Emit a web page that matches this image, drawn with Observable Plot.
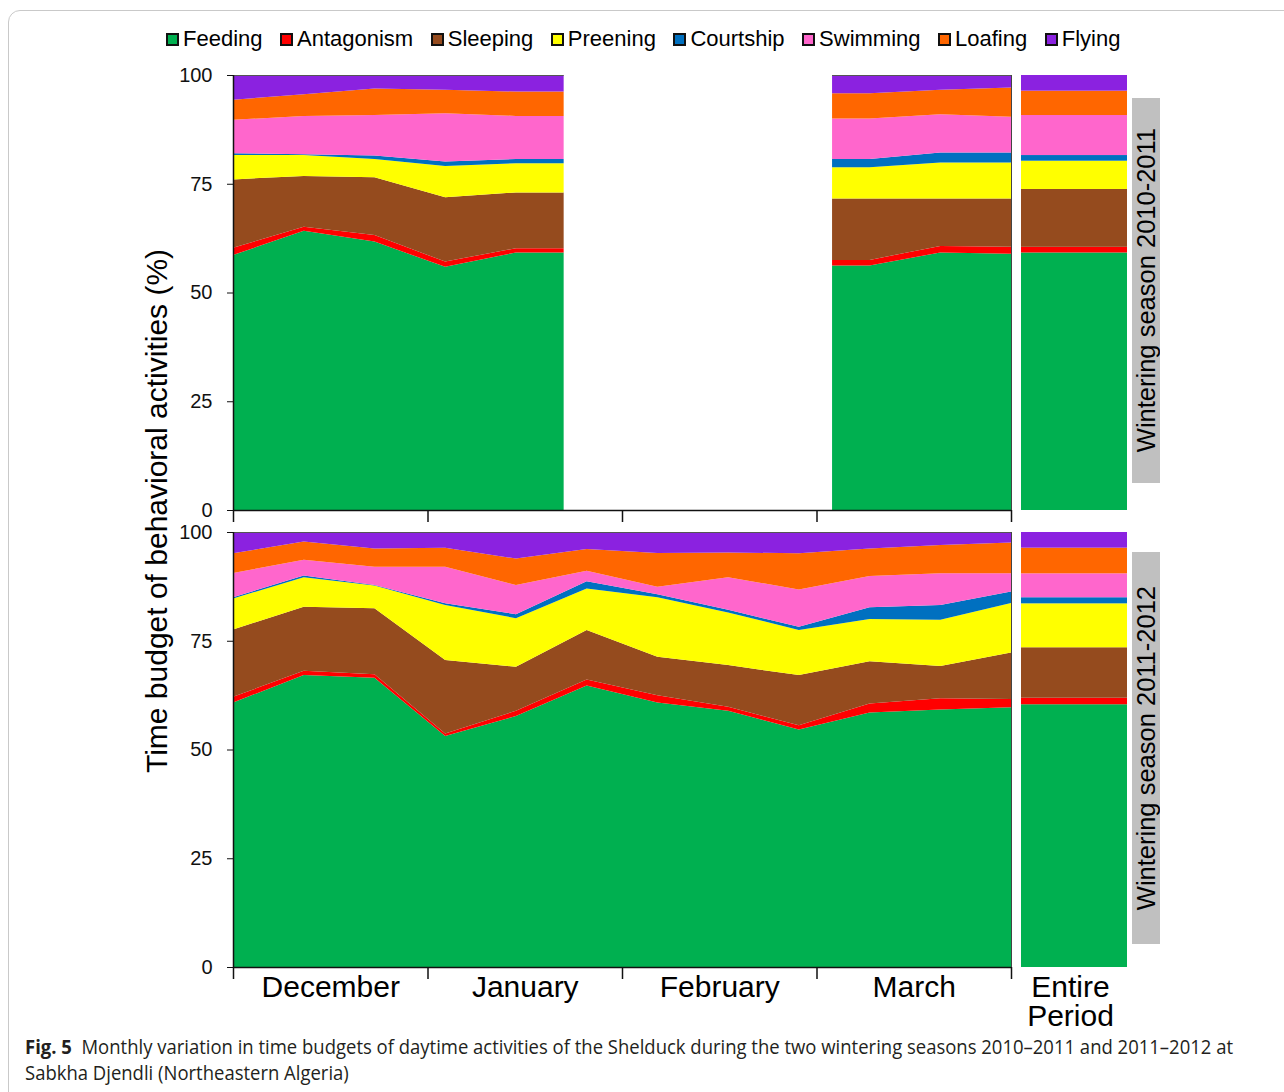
<!DOCTYPE html>
<html>
<head>
<meta charset="utf-8">
<script src="https://cdn.jsdelivr.net/npm/d3@7"></script>
<script src="https://cdn.jsdelivr.net/npm/@observablehq/plot@0.6"></script>
<style>
  html, body { margin: 0; padding: 0; background: #fff; overflow: hidden; }
  #fig { position: relative; width: 1284px; height: 1092px; font-family: "Liberation Sans", Arial, sans-serif; color: #000; }
  #box { position: absolute; left: 8px; top: 10px; width: 1320px; height: 1110px; border: 1px solid #c9c9c9; border-radius: 12px; box-sizing: border-box; }
  #legend { position: absolute; left: 166px; top: 25px; display: flex; align-items: center; font-size: 22px; line-height: 28px; white-space: nowrap; }
  .item { display: flex; align-items: center; margin-right: 17.5px; }
  .sw { width: 9px; height: 9px; border: 2px solid #111; margin-right: 4px; }
  #ylabel { position: absolute; left: 157px; top: 511px; transform: translate(-50%, -50%) rotate(-90deg); font-size: 30px; white-space: nowrap; }
  .strip { position: absolute; left: 1132px; width: 28px; background: #c0c0c0; display: flex; align-items: center; justify-content: center; }
  .strip span { writing-mode: vertical-rl; transform: rotate(180deg); font-size: 25.5px; white-space: nowrap; }
  #caption { position: absolute; left: 25px; top: 1034px; font-family: "Open Sans", sans-serif; font-size: 20px; line-height: 26px; color: #231f20; transform-origin: left top; white-space: nowrap; }
  #caption b { font-weight: 700; }
</style>
</head>
<body>
<div id="fig">
  <div id="box"></div>
  <div id="legend"></div>
  <div id="ylabel">Time budget of behavioral activities (%)</div>
  <div class="strip" style="top:98px;height:385px"><span>Wintering season 2010-2011</span></div>
  <div class="strip" style="top:552px;height:392px"><span>Wintering season 2011-2012</span></div>
  <div id="caption">
    <div class="l1"><span><b>Fig. 5</b>&nbsp; Monthly variation in time budgets of daytime activities of the Shelduck during the two wintering seasons 2010–2011 and 2011–2012 at</span></div>
    <div class="l2"><span>Sabkha Djendli (Northeastern Algeria)</span></div>
  </div>
</div>
<script>
// Activity categories (stacking order, bottom to top) and their fills
const activities = ["Feeding", "Antagonism", "Sleeping", "Preening", "Courtship", "Swimming", "Loafing", "Flying"];
const colors = ["#00b050", "#ff0000", "#954b1e", "#ffff00", "#0070c0", "#ff66cc", "#ff6600", "#8b22e0"];
const months = ["December", "January", "February", "March"];
const yTicks = [0, 25, 50, 75, 100];
const periodLabel = "Entire Period";

// Twelve sampling sessions, three per month (December–March)
const sessionCount = 12;

// Season 2010–2011: surveyed sessions only (Dec–Jan block, then March block), % of daytime
const sessions2011   = [0, 1, 2, 3, 4, 9, 10, 11];
const feeding2011    = [58.6, 64.2, 61.7, 55.9, 59.2, 56.2, 59.2, 58.9];
const antagonism2011 = [1.7, 0.9, 1.5, 1.2, 1.0, 1.3, 1.5, 1.6];
const sleeping2011   = [15.7, 11.7, 13.3, 14.8, 12.8, 14.1, 10.9, 11.1];
const preening2011   = [5.6, 4.8, 4.2, 7.2, 6.7, 7.2, 8.3, 8.3];
const courtship2011  = [0.4, 0.2, 0.8, 1.0, 1.0, 1.9, 2.3, 2.3];
const swimming2011   = [7.7, 8.8, 9.3, 11.1, 9.9, 9.3, 8.8, 8.2];
const loafing2011    = [4.6, 5.0, 6.1, 5.4, 5.6, 5.8, 5.6, 6.7];
const flying2011     = [5.7, 4.4, 3.1, 3.4, 3.8, 4.2, 3.4, 2.9];
// Month positions where the two 2010–2011 survey blocks stop / start
const blockEdges2011 = [1.70, 3.08];

// Season 2011–2012: all twelve sessions, % of daytime
const feeding2012    = [60.8, 67.1, 66.5, 53.1, 57.7, 64.7, 60.8, 58.9, 54.6, 58.5, 59.2, 59.7];
const antagonism2012 = [1.3, 1.0, 0.8, 0.6, 1.2, 1.4, 1.7, 0.9, 1.0, 2.1, 2.6, 1.9];
const sleeping2012   = [15.5, 14.7, 15.2, 16.9, 10.1, 11.4, 8.8, 9.6, 11.5, 9.7, 7.4, 10.7];
const preening2012   = [7.1, 6.8, 5.2, 12.6, 11.2, 9.5, 13.7, 12.1, 10.4, 9.7, 10.6, 11.4];
const courtship2012  = [0.3, 0.4, 0.1, 0.4, 0.9, 1.7, 0.7, 0.6, 0.7, 2.7, 3.4, 2.6];
const swimming2012   = [5.6, 3.6, 4.2, 8.4, 6.7, 2.4, 1.7, 7.5, 8.6, 7.2, 7.3, 4.2];
const loafing2012    = [4.5, 4.2, 4.2, 4.4, 6.1, 5.0, 7.8, 5.7, 8.3, 6.3, 6.5, 7.1];
const flying2012     = [4.9, 2.2, 3.8, 3.6, 6.1, 3.9, 4.8, 4.7, 4.9, 3.8, 3.0, 2.4];

// Whole-season budgets (same activity order)
const entire2011 = [59.2, 1.3, 13.3, 6.5, 1.3, 9.2, 5.6, 3.6];
const entire2012 = [60.4, 1.5, 11.6, 10.1, 1.4, 5.5, 5.9, 3.6];

const series2011 = [feeding2011, antagonism2011, sleeping2011, preening2011, courtship2011, swimming2011, loafing2011, flying2011];
const series2012 = [feeding2012, antagonism2012, sleeping2012, preening2012, courtship2012, swimming2012, loafing2012, flying2012];

// session index -> position in months (0 = start of December, 4 = end of March)
const sessionMonth = s => s * months.length / (sessionCount - 1);
const monthEdges = d3.range(months.length + 1);

// tidy rows: one per (position, activity), in activity order within each position
function tidy(xs, series, picks) {
  return xs.flatMap((x, j) => activities.map((a, k) => ({x, activity: a, pct: series[k][picks[j]]})));
}

const decJan2011 = tidy([...sessions2011.slice(0, 5).map(sessionMonth), blockEdges2011[0]], series2011, [0, 1, 2, 3, 4, 4]);
const march2011 = tidy([blockEdges2011[1], ...sessions2011.slice(5).map(sessionMonth)], series2011, [5, 5, 6, 7]);
const spans2011 = [{start: 0, end: blockEdges2011[0]}, {start: blockEdges2011[1], end: months.length}];
const all2012 = tidy(d3.range(sessionCount).map(sessionMonth), series2012, d3.range(sessionCount));

const color = {domain: activities, range: colors};
const baseStyle = {fontFamily: '"Liberation Sans", Arial, sans-serif', fontSize: "20px", color: "#111", background: "none", overflow: "visible"};
const root = document.getElementById("fig");
function place(node, left, top) {
  node.style.position = "absolute";
  node.style.left = left + "px";
  node.style.top = top + "px";
  root.appendChild(node);
}

function areaPanel(blocks, spans, height, marginBottom, withMonths) {
  return Plot.plot({
    width: 1020, height, marginTop: 20, marginBottom, marginLeft: 233, marginRight: 9,
    style: baseStyle,
    x: {domain: [0, months.length]},
    y: {domain: [0, 100]},
    color,
    marks: [
      ...blocks.map(rows => Plot.areaY(rows, Plot.stackY({x: "x", y: "pct", fill: "activity"}))),
      Plot.ruleY(spans, {y: () => 100, x1: "start", x2: "end", stroke: "#555", strokeWidth: 1}),
      Plot.ruleX([months.length], {stroke: "#444", strokeWidth: 1}),
      Plot.axisY({ticks: yTicks, tickSize: 6, tickPadding: 15, fontSize: 20, label: null}),
      Plot.axisX({ticks: monthEdges, tickSize: 12, tickFormat: () => "", label: null, strokeWidth: 1.5}),
      Plot.ruleX([0], {stroke: "#111", strokeWidth: 1.5}),
      Plot.ruleY([0], {stroke: "#111", strokeWidth: 1.5}),
      withMonths ? Plot.text(months, {x: (d, i) => i + 0.5, frameAnchor: "bottom", lineAnchor: "middle", dy: 20, fontSize: 30, fill: "#000"}) : null
    ]
  });
}

function barPanel(values, height, marginBottom, withLabel) {
  const rows = activities.map((a, k) => ({period: periodLabel, activity: a, pct: values[k]}));
  return Plot.plot({
    width: 116, height, marginTop: 20, marginBottom, marginLeft: 10, marginRight: 0,
    style: baseStyle,
    x: {domain: [periodLabel], padding: 0, axis: null},
    y: {domain: [0, 100], axis: null},
    color,
    marks: [
      Plot.barY(rows, Plot.stackY({x: "period", y: "pct", fill: "activity"})),
      withLabel ? Plot.text([periodLabel], {x: d => d, text: d => d.replace(" ", "\n"), frameAnchor: "bottom", lineAnchor: "middle", dy: 35, dx: -4, lineHeight: 0.97, fontSize: 30, fill: "#000"}) : null
    ]
  });
}

place(areaPanel([decJan2011, march2011], spans2011, 475, 20, false), 0, 55);
place(areaPanel([all2012], [{start: 0, end: months.length}], 515, 60, true), 0, 512);
place(barPanel(entire2011, 475, 20, false), 1011, 55);
place(barPanel(entire2012, 515, 60, true), 1011, 512);

// legend
const legend = d3.select("#legend");
activities.forEach((a, k) => {
  const item = legend.append("div").attr("class", "item");
  item.append("div").attr("class", "sw").style("background", colors[k]);
  item.append("span").text(a);
});

// caption: condensed to the figure width
const cap = document.getElementById("caption");
const w = cap.querySelector(".l1 span").getBoundingClientRect().width;
cap.style.transform = `scaleX(${1208 / w})`;
</script>
</body>
</html>
